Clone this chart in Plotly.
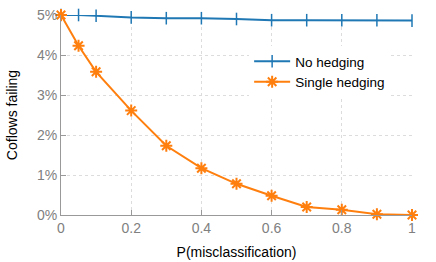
import plotly.graph_objects as go

p_mis = [0, 0.05, 0.1, 0.2, 0.3, 0.4, 0.5, 0.6, 0.7, 0.8, 0.9, 1.0]
no_hedging = [5.0, 5.0, 4.98, 4.94, 4.92, 4.92, 4.90, 4.87, 4.87, 4.87, 4.87, 4.86]
single_hedging = [5.0, 4.23, 3.58, 2.61, 1.73, 1.17, 0.78, 0.48, 0.20, 0.13, 0.02, 0.0]
x_ticks = [0, 0.2, 0.4, 0.6, 0.8, 1]
x_ticklabels = ["0", "0.2", "0.4", "0.6", "0.8", "1"]
y_ticks = [0, 1, 2, 3, 4, 5]
y_ticklabels = ["0%", "1%", "2%", "3%", "4%", "5%"]

BLUE = "#1f77b4"
ORANGE = "#ff7f0e"
FONT = "Liberation Sans, Arial, sans-serif"

fig = go.Figure()
fig.add_trace(go.Scatter(
    x=p_mis, y=no_hedging, mode="lines+markers", name="No hedging",
    line=dict(color=BLUE, width=2),
    marker=dict(symbol="line-ns", size=9, line=dict(color=BLUE, width=1.5), color=BLUE),
    cliponaxis=False,
))
fig.add_trace(go.Scatter(
    x=p_mis, y=single_hedging, mode="lines+markers", name="Single hedging",
    line=dict(color=ORANGE, width=2),
    marker=dict(symbol="asterisk-open", size=10, line=dict(color=ORANGE, width=2), color=ORANGE),
    cliponaxis=False,
))

axis_common = dict(
    showline=True, linecolor="#999999", linewidth=1,
    ticks="inside", ticklen=5, tickcolor="#999999", tickwidth=1,
    showgrid=True, gridcolor="#dcdcdc", griddash="dot", gridwidth=1,
    zeroline=False, mirror=False, automargin=False,
    ticklabeloverflow="allow",
    tickfont=dict(family=FONT, size=14, color="#808080"),
)

fig.update_layout(
    width=436, height=262,
    margin=dict(l=61, r=24, t=15, b=47),
    paper_bgcolor="white", plot_bgcolor="white",
    font=dict(family=FONT, size=13, color="black"),
    xaxis=dict(range=[0, 1], tickvals=x_ticks, ticktext=x_ticklabels,
               title=dict(text="P(misclassification)", font=dict(family=FONT, size=14, color="black"), standoff=12),
               **axis_common),
    yaxis=dict(range=[0, 5], tickvals=y_ticks, ticktext=y_ticklabels,
               title=dict(text="Coflows failing", font=dict(family=FONT, size=14, color="black"), standoff=16),
               **axis_common),
    legend=dict(x=0.536, y=0.845, xanchor="left", yanchor="top",
                bgcolor="white", borderwidth=0,
                font=dict(family=FONT, size=13.5, color="black"),
                tracegroupgap=0, itemwidth=36),
    showlegend=True,
    hovermode=False,
)

fig.write_html("out.html", config={"displayModeBar": False},
               post_script="document.body.style.margin='0';")
